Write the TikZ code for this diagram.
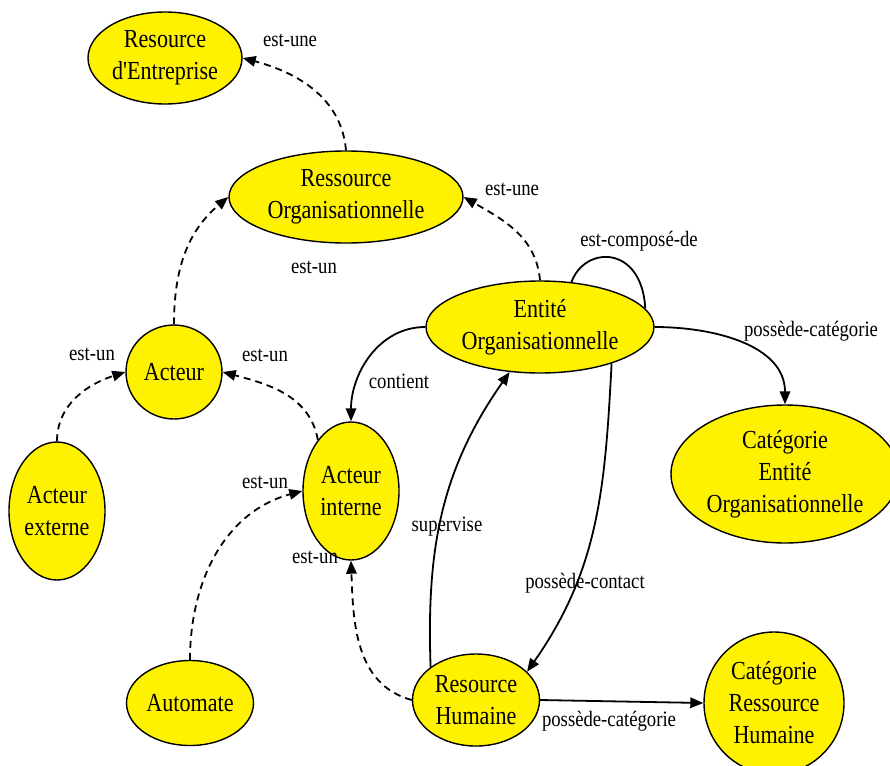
\documentclass[tikz,border=0pt]{standalone}
\usepackage{fontspec}
\setmainfont{Liberation Serif}[FakeStretch=0.85, Ligatures=TeXOff]
\usetikzlibrary{shapes.geometric,arrows.meta}
\tikzset{
  ent/.style={ellipse, draw=black, line width=1.4pt, fill=yellow, inner sep=0pt, align=center,
    font=\fontsize{26}{32}\selectfont},
  lbl/.style={font=\fontsize{22}{26}\selectfont, inner sep=0pt},
  rel/.style={line width=1.8pt, -{Triangle[length=13pt,width=10.5pt]}},
  isa/.style={rel, dash pattern=on 7pt off 5pt},
}
\begin{document}
\begin{tikzpicture}[x=1pt,y=-1pt]
\useasboundingbox (0,0) rectangle (890,765);
\clip (0,0) rectangle (890,765);
% nodes
\node[ent, minimum width=154pt, minimum height=92pt] (re) at (165,58) {Resource\\d'Entreprise};
\node[ent, minimum width=234pt, minimum height=92pt] (ro) at (346,197) {Ressource\\Organisationnelle};
\node[ent, minimum width=96pt, minimum height=94pt] (act) at (174,372) {Acteur};
\node[ent, minimum width=96pt, minimum height=138pt] (ext) at (57,511) {Acteur\\externe};
\node[ent, minimum width=96pt, minimum height=138pt] (int) at (351,491) {Acteur\\interne};
\node[ent, minimum width=228pt, minimum height=92pt] (eo) at (540,327) {Entité\\Organisationnelle};
\node[ent, minimum width=228pt, minimum height=138pt] (ceo) at (785,474) {Catégorie\\Entité\\Organisationnelle};
\node[ent, minimum width=127pt, minimum height=85pt] (aut) at (190,703) {Automate};
\node[ent, minimum width=127pt, minimum height=92pt] (rh) at (476,700) {Resource\\Humaine};
\node[ent, minimum width=140pt, minimum height=142pt] (crh) at (774,703) {Catégorie\\Ressource\\Humaine};
% edges
\draw[isa] (ro.north) to[out=95, in=-15] (re.east);
\draw[isa] (act.north) to[out=90, in=-140] (ro.west);
\draw[isa] (ext.north) to[out=90, in=-162] (act.west);
\draw[isa] (int.123) to[out=100, in=-15] (act.east);
\draw[isa] (aut.north) to[out=90, in=-165] (int.west);
\draw[isa] (rh.west) to[out=165, in=-88] (int.south);
\draw[isa] (eo.north) to[out=95, in=-30] (ro.east);
\draw[rel] (eo.west) to[out=180, in=90] (int.north);
\draw[line width=1.8pt] (eo.55) .. controls (585,245) and (642,245) .. (eo.10);
\draw[rel] (eo.east) to[out=0, in=90] (ceo.north);
\draw[rel] (eo.-27) to[out=-93, in=55] (rh.29);
\draw[rel] (rh.144) to[out=92, in=-125] (eo.-124);
\draw[rel] (rh.east) -- (crh.west);
% labels
\node[lbl] (l1) at (290,40) {est-une};
\node[lbl] (l2) at (512,189) {est-une};
\node[lbl] (l3) at (314,267) {est-un};
\node[lbl] (l4) at (92,354) {est-un};
\node[lbl] (l5) at (265,355) {est-un};
\node[lbl] (l6) at (265,482) {est-un};
\node[lbl] (l7) at (315,557) {est-un};
\node[lbl] (l8) at (399,381) {contient};
\node[lbl] (l9) at (639,241) {est-composé-de};
\node[lbl] (l10) at (811,331) {possède-catégorie};
\node[lbl] (l11) at (447,527) {supervise};
\node[lbl] (l12) at (585,583) {possède-contact};
\node[lbl] (l13) at (609,721) {possède-catégorie};
\end{tikzpicture}
\end{document}
